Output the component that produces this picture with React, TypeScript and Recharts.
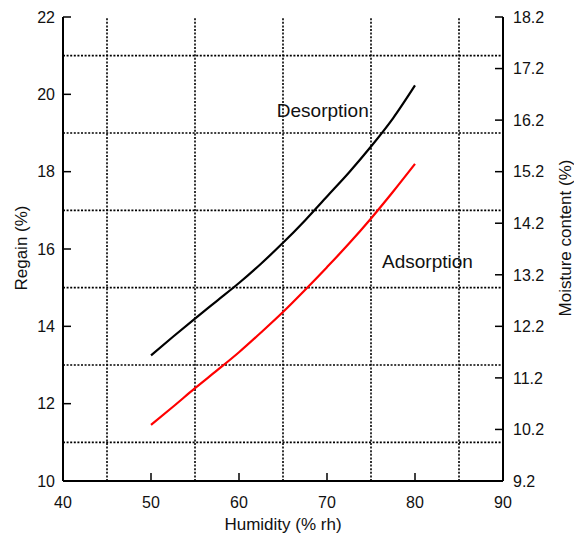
import React from 'react';
import { LineChart, Line, XAxis, YAxis, ReferenceLine, ReferenceDot } from 'recharts';

// values
const humidity = [50, 52.5, 55, 57.5, 60, 62.5, 65, 67.5, 70, 72.5, 75, 77.5, 80];
const desorption = [13.25, 13.73, 14.2, 14.66, 15.12, 15.62, 16.16, 16.74, 17.36, 17.98, 18.65, 19.38, 20.23];
const adsorption = [11.45, 11.92, 12.4, 12.86, 13.33, 13.84, 14.37, 14.94, 15.53, 16.14, 16.79, 17.48, 18.2];

const humidityTicks = [40, 50, 60, 70, 80, 90];
const regainTicks = [10, 12, 14, 16, 18, 20, 22];
const moistureTicks = [9.2, 10.2, 11.2, 12.2, 13.2, 14.2, 15.2, 16.2, 17.2, 18.2];
const gridHumidity = [45, 55, 65, 75, 85];
const gridRegain = [11, 13, 15, 17, 19, 21];

const data = humidity.map((h, i) => ({ h, des: desorption[i], ads: adsorption[i] }));

const FONT = '"Liberation Sans", Arial, sans-serif';
const INK = '#111';

const LeftTick = ({ x, y, payload }: any) => (
  <g>
    <line x1={x + 8} x2={x + 16} y1={y} y2={y} stroke="#000" strokeWidth={1.5} />
    <text x={x} y={y} dy="0.36em" textAnchor="end" fontSize={16} fontFamily={FONT} fill={INK}>
      {payload.value}
    </text>
  </g>
);

const RightTick = ({ x, y, payload }: any) => (
  <g>
    <line x1={x - 10} x2={x - 18} y1={y} y2={y} stroke="#000" strokeWidth={1.5} />
    <text x={x} y={y} dy="0.36em" textAnchor="start" fontSize={16} fontFamily={FONT} fill={INK}>
      {Number(payload.value).toFixed(1)}
    </text>
  </g>
);

const BottomTick = ({ x, y, payload }: any) => (
  <g>
    {payload.value !== 40 && payload.value !== 90 && (
      <line x1={x} x2={x} y1={y} y2={y - 8} stroke="#000" strokeWidth={1.5} />
    )}
    <text x={x} y={y + 21} dy="0.36em" textAnchor="middle" fontSize={16} fontFamily={FONT} fill={INK}>
      {payload.value}
    </text>
  </g>
);

const Note = (text: string) => (props: any) => (
  <text x={props.cx} y={props.cy} fontSize={19} fontFamily={FONT} fill={INK}>
    {text}
  </text>
);

export default function App() {
  return (
    <div style={{ position: 'absolute', left: 0, top: 0, width: 574, height: 535, background: '#fff' }}>
      <LineChart width={574} height={535} data={data} margin={{ top: 17, right: 0, bottom: 0, left: 0 }}>
        <XAxis
          dataKey="h"
          type="number"
          domain={[40, 90]}
          ticks={humidityTicks}
          height={54}
          tickSize={0}
          tickMargin={0}
          tick={<BottomTick />}
          axisLine={{ stroke: '#000', strokeWidth: 2 }}
          label={{
            content: () => (
              <text x={283} y={530} textAnchor="middle" fontSize={17} fontFamily={FONT} fill={INK}>
                Humidity (% rh)
              </text>
            ),
          }}
        />
        <XAxis
          xAxisId="top"
          orientation="top"
          type="number"
          domain={[40, 90]}
          height={0}
          tick={false}
          tickLine={false}
          axisLine={{ stroke: '#000', strokeWidth: 2 }}
        />
        <YAxis
          type="number"
          domain={[10, 22]}
          ticks={regainTicks}
          width={63}
          tickSize={0}
          tickMargin={8}
          tick={<LeftTick />}
          axisLine={{ stroke: '#000', strokeWidth: 2 }}
          label={{
            content: () => (
              <text
                x={21}
                y={248}
                textAnchor="middle"
                dominantBaseline="central"
                transform="rotate(-90 21 248)"
                fontSize={17}
                fontFamily={FONT}
                fill={INK}
              >
                Regain (%)
              </text>
            ),
          }}
        />
        <YAxis
          yAxisId="right"
          orientation="right"
          type="number"
          domain={[9.2, 18.2]}
          allowDataOverflow
          ticks={moistureTicks}
          interval={0}
          width={71}
          tickSize={0}
          tickMargin={10}
          tick={<RightTick />}
          axisLine={{ stroke: '#000', strokeWidth: 2 }}
          label={{
            content: () => (
              <text
                x={565}
                y={238}
                textAnchor="middle"
                dominantBaseline="central"
                transform="rotate(-90 565 238)"
                fontSize={17}
                fontFamily={FONT}
                fill={INK}
              >
                Moisture content (%)
              </text>
            ),
          }}
        />
        {gridRegain.map((v) => (
          <ReferenceLine key={`gy${v}`} y={v} stroke="#000" strokeWidth={1.6} strokeDasharray="2 1.6" />
        ))}
        {gridHumidity.map((v) => (
          <ReferenceLine key={`gx${v}`} x={v} stroke="#000" strokeWidth={1.6} strokeDasharray="2 1.6" />
        ))}
        <Line
          type="monotone"
          dataKey="des"
          stroke="#000"
          strokeWidth={2.2}
          dot={false}
          isAnimationActive={false}
        />
        <Line
          type="monotone"
          dataKey="ads"
          stroke="#ff0000"
          strokeWidth={2.2}
          dot={false}
          isAnimationActive={false}
        />
        <ReferenceDot x={64.3} y={19.42} r={0} shape={Note('Desorption')} />
        <ReferenceDot x={76.25} y={15.51} r={0} shape={Note('Adsorption')} />
      </LineChart>
    </div>
  );
}
